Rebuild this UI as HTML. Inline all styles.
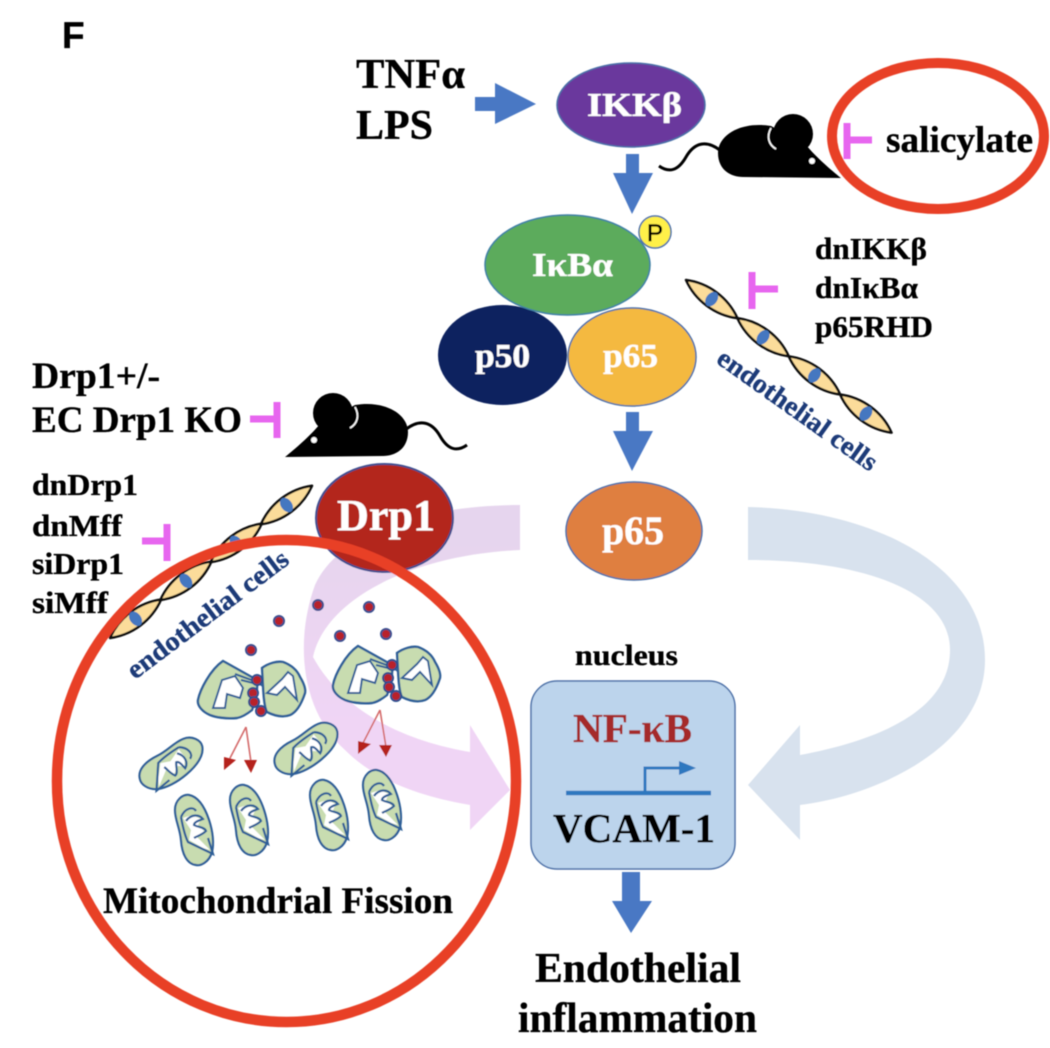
<!DOCTYPE html>
<html><head><meta charset="utf-8"><style>
html,body{margin:0;padding:0;background:#fff}
svg{display:block}
text{font-family:"Liberation Serif",serif;font-weight:bold;stroke:currentColor;stroke-width:.35}
.s{font-family:"Liberation Sans",sans-serif}
</style></head><body>
<svg width="1050" height="1048" viewBox="0 0 1050 1048" xmlns="http://www.w3.org/2000/svg">
<defs>
<filter id="b" x="-5%" y="-5%" width="110%" height="110%"><feGaussianBlur stdDeviation="0.5"/></filter>
<linearGradient id="pk" gradientUnits="userSpaceOnUse" x1="0" y1="540" x2="0" y2="720"><stop offset="0" stop-color="#e6d5ee"/><stop offset="1" stop-color="#f0d5f5"/></linearGradient>
<g id="cell">
<path d="M0 0C20 -11 44 -11 64 0C44 11 20 11 0 0Z" fill="#fbdc9a" stroke="#111" stroke-width="2.5" stroke-linejoin="round"/>
<ellipse cx="32" cy="0" rx="5.5" ry="8" fill="#4477c0"/>
</g>
<g id="mito">
<path d="M-20 -20C-20 -30 -12 -36 -6 -35C4 -33 10 -22 14 -10C18 2 19 14 17 22C14 32 6 36 1 35C-8 34 -13 24 -14 10C-15 -2 -20 -10 -20 -20Z" fill="#c8dcb0" stroke="#2f5f97" stroke-width="2.2"/>
<path d="M-12 -12L-3 -15L6 -11L3 -5L9 1L2 7L15 20L8 18L-6 10L-4 0Z" fill="#fff"/>
<path d="M-14 -13C-10 -22 -2 -24 1 -19M-9 -9C-4 -16 4 -16 8 -11C3 -9 -1 -8 -1 -5C2 -3 10 -3 11 1C7 5 2 6 -1 8M-14 -13C-12 -2 -10 6 -7 12L18 24L13 8" fill="none" stroke="#2f5f97" stroke-width="2.2"/>
</g>
<g id="big">
<path d="M-57 10C-55 0 -45 -20 -32 -29L2 -10C3 0 0 12 -3 20C-8 24 -13 27 -18 28C-30 29 -40 27 -45 25C-52 22 -58 16 -57 10Z" fill="#c8dcb0" stroke="#2f5f97" stroke-width="2.4"/>
<path d="M7 -22C14 -27 22 -29 28 -28C36 -25 42 -20 45 -13C48 -8 51 -2 50 3C47 12 42 22 35 25C27 28 18 25 12 22C8 15 8 -10 7 -22Z" fill="#c8dcb0" stroke="#2f5f97" stroke-width="2.4"/>
<path d="M-42 18L-33 -10L-20 -14L-12 -2L-15 8L-28 4L-30 18Z" fill="#fff" stroke="#2f5f97" stroke-width="2"/>
<path d="M12 3L27 -11L33 -18L38 -14L42 10L30 -3L22 5Z" fill="#fff" stroke="#2f5f97" stroke-width="2"/>
<path d="M-20 -16L2 -8L8 -4M-14 -10L2 -6" stroke="#2f5f97" stroke-width="2" fill="none"/>
<g fill="#b8242a" stroke="#2f4f8f" stroke-width="2">
<circle cx="2" cy="-10" r="5"/><circle cx="-2" cy="3" r="5"/><circle cx="-1" cy="12" r="5"/><circle cx="6" cy="21" r="5"/>
</g>
</g>
<g id="mouse">
<circle cx="48" cy="19" r="20" fill="#000"/>
<path d="M0 63C10 55 25 42 35 30L70 11C100 6 123 20 123 38C123 55 110 62 98 62Z" fill="#000"/>
<path d="M70 13C75 22 72 30 65 34" stroke="#fff" stroke-width="1.6" fill="none"/>
<circle cx="29" cy="46" r="3" fill="#fff"/>
<path d="M120 36C135 24 147 28 155 42C163 56 172 58 182 51" stroke="#000" stroke-width="3" fill="none"/>
</g>
</defs>

<g filter="url(#b)">
<!-- curved arrows -->
<path d="M520 505C430 505 340 530 315 585C295 640 300 710 345 750C380 785 430 798 470 805L470 830L510 790L470 725L470 752C410 742 345 715 313 657C325 600 410 555 520 550Z" fill="url(#pk)"/>
<path d="M748 507C880 510 985 570 985 660C985 745 880 795 800 805L800 840L748 785L800 725L800 755C880 740 950 710 950 650C950 590 860 560 748 560Z" fill="#d8e2ee"/>

<text x="62" y="48" class="s" font-size="37" fill="#000">F</text>

<text x="356" y="88" font-size="42" textLength="109" lengthAdjust="spacingAndGlyphs">TNFα</text>
<text x="356" y="139" font-size="42" textLength="77" lengthAdjust="spacingAndGlyphs">LPS</text>
<path d="M475 97H495V83L536 104L495 124V111H475Z" fill="#4a78c4"/>
<ellipse cx="631" cy="105" rx="74" ry="42" fill="#6a389d" stroke="#4a6fa8" stroke-width="1.5"/>
<text x="587" y="116" font-size="34" fill="#fff" style="color:#fff" textLength="95" lengthAdjust="spacingAndGlyphs">IKKβ</text>
<path d="M626 154H639V173H653L632 214L613 173H626Z" fill="#4a78c4"/>

<use href="#mouse" transform="translate(841,115) scale(-1,1)"/>
<path d="M847 123V159M847 140H872" stroke="#e766ef" stroke-width="7" fill="none"/>
<text x="886" y="152" font-size="37" textLength="147" lengthAdjust="spacingAndGlyphs">salicylate</text>

<ellipse cx="502.5" cy="355" rx="64.5" ry="50" fill="#08205e"/>
<text x="475" y="367" font-size="34" fill="#fff" style="color:#fff" textLength="55" lengthAdjust="spacingAndGlyphs">p50</text>
<ellipse cx="632" cy="357" rx="64" ry="49" fill="#f4b93f" stroke="#4a6fa8" stroke-width="1.5"/>
<text x="603" y="367" font-size="34" fill="#fff" style="color:#fff" textLength="55" lengthAdjust="spacingAndGlyphs">p65</text>
<ellipse cx="567.5" cy="265" rx="82.5" ry="50" fill="#5cab5c" stroke="#3f7fa5" stroke-width="1.5"/>
<text x="532" y="276" font-size="34" fill="#fff" style="color:#fff" textLength="81" lengthAdjust="spacingAndGlyphs">IκBα</text>
<circle cx="655" cy="232" r="16" fill="#fff04a" stroke="#4a6fa8" stroke-width="1.5"/>
<text x="655" y="241" class="s" font-size="24" text-anchor="middle" style="font-weight:normal;color:#000;stroke-width:.6">P</text>

<path d="M626 412H639V431H653L632 471L613 431H626Z" fill="#4a78c4"/>
<ellipse cx="634" cy="531" rx="68" ry="49" fill="#df7f3f" stroke="#4a6fa8" stroke-width="1.5"/>
<text x="602" y="544" font-size="40" fill="#fff" style="color:#fff" textLength="62" lengthAdjust="spacingAndGlyphs">p65</text>

<text x="815" y="259" font-size="31" textLength="112" lengthAdjust="spacingAndGlyphs">dnIKKβ</text>
<text x="815" y="298" font-size="31" textLength="103" lengthAdjust="spacingAndGlyphs">dnIκBα</text>
<text x="815" y="337" font-size="31" textLength="118" lengthAdjust="spacingAndGlyphs">p65RHD</text>
<path d="M752 272V309M752 289H778" stroke="#e766ef" stroke-width="7" fill="none"/>

<g transform="translate(686,280) rotate(36.6)">
<use href="#cell"/><use href="#cell" x="64"/><use href="#cell" x="128"/><use href="#cell" x="192"/>
</g>
<text transform="translate(715,362) rotate(35.4)" font-size="27" fill="#1c3a78" style="color:#1c3a78" textLength="190" lengthAdjust="spacingAndGlyphs">endothelial cells</text>

<text x="32" y="388" font-size="37" textLength="128" lengthAdjust="spacingAndGlyphs">Drp1+/-</text>
<text x="32" y="432" font-size="37" textLength="210" lengthAdjust="spacingAndGlyphs">EC Drp1 KO</text>
<path d="M250 419H277M277 402V438" stroke="#e766ef" stroke-width="7" fill="none"/>
<use href="#mouse" transform="translate(285,394)"/>

<text x="32" y="495" font-size="31" textLength="106" lengthAdjust="spacingAndGlyphs">dnDrp1</text>
<text x="32" y="536" font-size="31" textLength="90" lengthAdjust="spacingAndGlyphs">dnMff</text>
<text x="32" y="574" font-size="31" textLength="92" lengthAdjust="spacingAndGlyphs">siDrp1</text>
<text x="32" y="613" font-size="31" textLength="76" lengthAdjust="spacingAndGlyphs">siMff</text>
<path d="M142 541H167M167 524V561" stroke="#e766ef" stroke-width="7" fill="none"/>

<g transform="translate(110,638) rotate(-37)">
<use href="#cell"/><use href="#cell" x="63"/><use href="#cell" x="126"/><use href="#cell" x="189"/>
</g>
<ellipse cx="384.5" cy="518" rx="68.5" ry="54" fill="#b3261b" stroke="#3f4f90" stroke-width="2"/>
<text x="337" y="530" font-size="44" fill="#fff" style="color:#fff" textLength="98" lengthAdjust="spacingAndGlyphs">Drp1</text>
<text transform="translate(135,680) rotate(-37)" font-size="27" fill="#1c3a78" style="color:#1c3a78" textLength="195" lengthAdjust="spacingAndGlyphs">endothelial cells</text>

<!-- dots -->
<g fill="#b8242a" stroke="#3a4f90" stroke-width="2">
<circle cx="251" cy="650" r="5"/><circle cx="279" cy="621" r="5"/><circle cx="318" cy="605" r="5"/><circle cx="369" cy="607" r="5"/><circle cx="340" cy="636" r="5"/><circle cx="386" cy="634" r="5"/>
</g>
<use href="#big" transform="translate(255,690)"/>
<use href="#big" transform="translate(390,675)"/>

<!-- red arrows -->
<g stroke="#d46a6a" stroke-width="1.6" fill="none">
<path d="M246 727L228 762M246 727L251 762M380 710L362 745M380 710L386 747"/>
</g>
<g fill="#b5221e">
<path d="M224 757L236 760L224 770Z"/><path d="M244 760H257L251 773Z"/>
<path d="M358 741L371 744L358 754Z"/><path d="M379 745H392L386 757Z"/>
</g>

<use href="#mito" transform="translate(172,765) rotate(68)"/>
<use href="#mito" transform="translate(307,750) rotate(68)"/>
<use href="#mito" transform="translate(195,830)"/>
<use href="#mito" transform="translate(250,820)"/>
<use href="#mito" transform="translate(330,815)"/>
<use href="#mito" transform="translate(383,805)"/>

<text x="103" y="913" font-size="37" textLength="350" lengthAdjust="spacingAndGlyphs">Mitochondrial Fission</text>

<!-- nucleus -->
<text x="575" y="665" font-size="30" textLength="103" lengthAdjust="spacingAndGlyphs">nucleus</text>
<rect x="531" y="681" width="204" height="188" rx="26" fill="#bcd4ec" stroke="#4a6fa8" stroke-width="1.5"/>
<text x="573" y="742" font-size="41" fill="#a52a2a" style="color:#a52a2a" textLength="119" lengthAdjust="spacingAndGlyphs">NF-κB</text>
<path d="M566 793H711" stroke="#2f78bf" stroke-width="4.5"/>
<path d="M645 793V768H680" stroke="#2f78bf" stroke-width="3" fill="none"/>
<path d="M679 761L696 768L679 775Z" fill="#2f78bf"/>
<text x="553" y="842" font-size="41" textLength="162" lengthAdjust="spacingAndGlyphs">VCAM-1</text>
<path d="M622 872H640V901H652L631 933L612 901H622Z" fill="#4a78c4"/>
<text x="535" y="982" font-size="42" textLength="206" lengthAdjust="spacingAndGlyphs">Endothelial</text>
<text x="518" y="1032" font-size="42" textLength="239" lengthAdjust="spacingAndGlyphs">inflammation</text>

<!-- red circles -->
<ellipse cx="286.5" cy="781" rx="229.5" ry="241" fill="none" stroke="#e83f26" stroke-width="10.5"/>
<ellipse cx="938" cy="136" rx="106" ry="73" fill="none" stroke="#e83f26" stroke-width="10"/>
</g>
</svg>
</body></html>
